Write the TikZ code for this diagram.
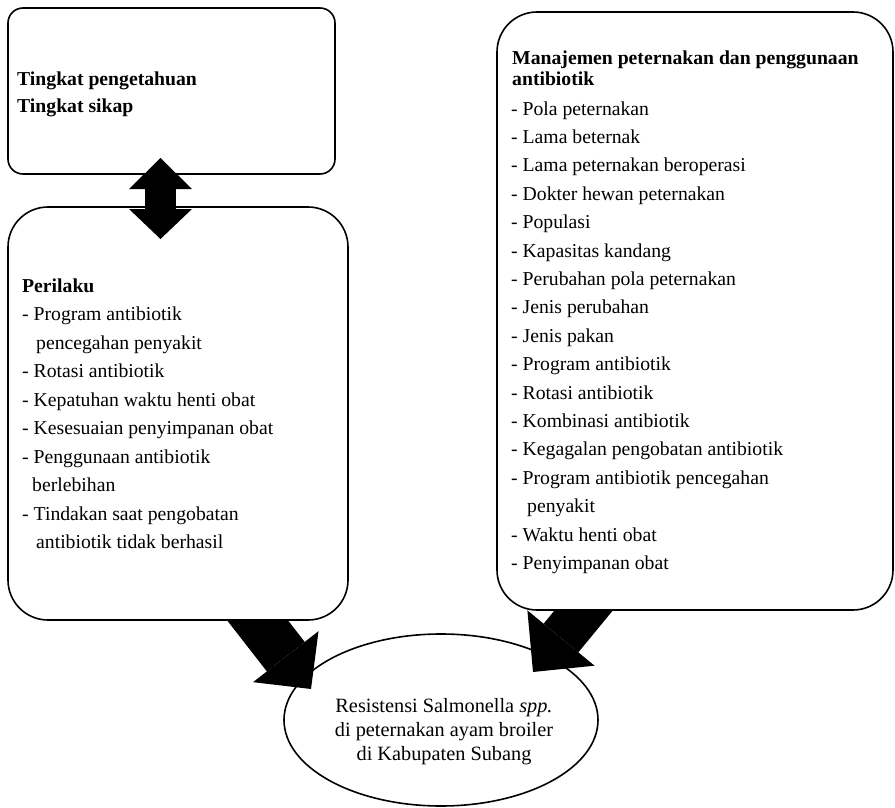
\documentclass[tikz,border=0pt]{standalone}
\usepackage{fontspec}
\setmainfont{Liberation Serif}
\usetikzlibrary{arrows.meta,shapes.geometric}
\tikzset{
  box/.style={draw, line width=1.6pt, fill=white, anchor=north west, inner sep=0pt, outer sep=0pt},
  txt/.style={anchor=base west, inner sep=0pt, font=\fontsize{19.7}{28.5}\selectfont},
  ctxt/.style={anchor=base, inner sep=0pt, font=\fontsize{20.3}{24}\selectfont},
  blockarrow/.style n args={3}{line width=#1, -{Triangle[width=#2,length=#3,line width=0pt]}},
}
\begin{document}
\begin{tikzpicture}[x=1pt,y=-1pt]
\fill[white] (0,0) rectangle (895,808);
\useasboundingbox (0,0) rectangle (895,808);

% target ellipse
\node[draw, ellipse, line width=1.6pt, minimum width=314pt, minimum height=172pt, inner sep=0pt] (res) at (441,720) {};

% diagonal block arrows (tails hidden under boxes)
\coordinate (ltail) at (244,603);
\coordinate (ltip) at (311,689);
\coordinate (rtail) at (603,587);
\coordinate (rtip) at (533,672);
\draw[blockarrow={48pt}{83pt}{41pt}] (ltail) -- (ltip);
\draw[blockarrow={45pt}{87pt}{44pt}] (rtail) -- (rtip);

% boxes
\node[box, rounded corners=15pt, minimum width=327pt, minimum height=166pt] (know) at (8,8) {};
\node[box, rounded corners=40pt, minimum width=340pt, minimum height=413pt] (beh) at (8,207) {};
\node[box, rounded corners=40pt, minimum width=396pt, minimum height=598pt] (man) at (497,12) {};

% double arrow between knowledge and behaviour
\coordinate (dtop) at (160.5,158);
\coordinate (dbot) at (160.5,239);
\draw[line width=31pt, {Triangle[width=63pt,length=31pt,line width=0pt]}-{Triangle[width=63pt,length=30pt,line width=0pt]}] (dtop) -- (dbot);

% box 1 text
\node[txt] (k1) at (17,85) {\textbf{Tingkat pengetahuan}};
\node[txt] (k2) at (17,113) {\textbf{Tingkat sikap}};

% box 2 text
\foreach \xo/\itm [count=\i from 0] in {
  22/{\textbf{Perilaku}},
  22/{- Program antibiotik},
  36/{pencegahan penyakit},
  22/{- Rotasi antibiotik},
  22/{- Kepatuhan waktu henti obat},
  22/{- Kesesuaian penyimpanan obat},
  22/{- Penggunaan antibiotik},
  32/{berlebihan},
  22/{- Tindakan saat pengobatan},
  36/{antibiotik tidak berhasil}}
  \node[txt] (b\i) at ({\xo},{292+28.55*\i}) {\itm};

% box 3 text
\node[txt] (m1) at (512,65) {\textbf{Manajemen peternakan dan penggunaan}};
\node[txt] (m2) at (512,85) {\textbf{antibiotik}};
\foreach \xo/\itm [count=\i from 0] in {
  511/{- Pola peternakan},
  511/{- Lama beternak},
  511/{- Lama peternakan beroperasi},
  511/{- Dokter hewan peternakan},
  511/{- Populasi},
  511/{- Kapasitas kandang},
  511/{- Perubahan pola peternakan},
  511/{- Jenis perubahan},
  511/{- Jenis pakan},
  511/{- Program antibiotik},
  511/{- Rotasi antibiotik},
  511/{- Kombinasi antibiotik},
  511/{- Kegagalan pengobatan antibiotik},
  511/{- Program antibiotik pencegahan},
  527/{penyakit},
  511/{- Waktu henti obat},
  511/{- Penyimpanan obat}}
  \node[txt] (r\i) at ({\xo},{115+28.4*\i}) {\itm};

% ellipse text
\node[ctxt] (e1) at (444,712) {Resistensi Salmonella \textit{spp.}};
\node[ctxt] (e2) at (444,736) {di peternakan ayam broiler};
\node[ctxt] (e3) at (444,760) {di Kabupaten Subang};
\end{tikzpicture}
\end{document}
